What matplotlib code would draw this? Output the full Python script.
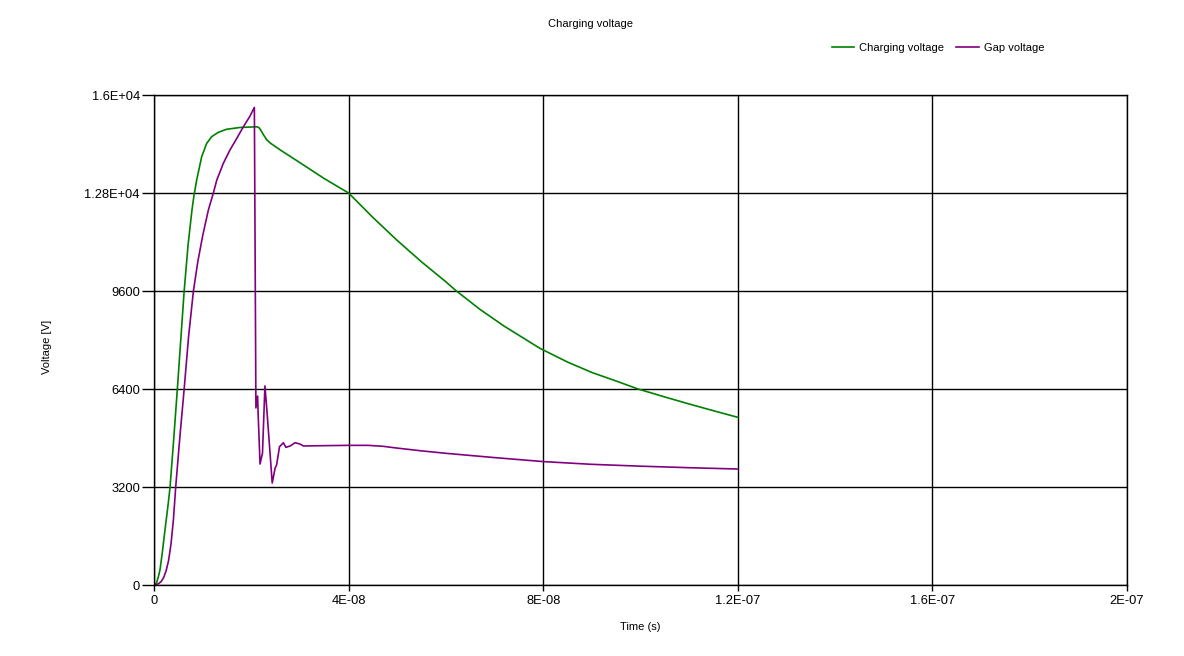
import matplotlib
matplotlib.use('Agg')
import matplotlib.pyplot as plt
from matplotlib.ticker import FixedLocator

plt.rcParams['font.family'] = ['Liberation Sans', 'DejaVu Sans']

# Tiempos en ns, valores en V
t_carga = [0, 0.5, 0.9, 1.23, 1.7, 2.26, 2.94, 3.3, 4.0, 4.8, 5.5, 6.2, 7.0, 7.8, 8.2, 8.77,
           9.8, 10.83, 11.86, 13.2, 14.9, 17.7, 20.8, 21.2, 21.6, 22.0, 22.5, 23.2, 24, 26,
           30, 35, 40, 45, 50, 55, 60, 62, 67, 72, 79.3, 85, 90, 95, 99.5, 105, 110, 115, 120]
v_carga = [0, 60, 270, 490, 1050, 1800, 2680, 3200, 4650, 6400, 8000, 9600, 11100, 12240,
           12700, 13220, 13985, 14420, 14640, 14780, 14880, 14940, 14960, 14960, 14930,
           14840, 14700, 14530, 14420, 14200, 13790, 13270, 12800, 12000, 11250, 10550,
           9900, 9620, 9000, 8450, 7730, 7280, 6940, 6660, 6400, 6140, 5910, 5690, 5475]

t_gap = [0, 0.5, 1, 1.5, 2.0, 2.5, 3.0, 3.5, 4.0, 4.46, 5.3, 6.2, 7.1, 8.1, 9.0, 10.0, 11.17,
         12.2, 12.9, 14.25, 15.6, 17.0, 18.36, 19.73, 20.63, 20.95, 21.3, 21.4, 21.8, 22.3,
         22.8, 23.2, 23.7, 24.3, 24.9, 25.2, 25.8, 26.6, 27.1, 28, 29, 30, 30.7, 35, 40, 44,
         47, 50, 55, 60, 70, 80, 90, 100, 110, 120]
v_gap = [0, 10, 50, 120, 250, 470, 800, 1350, 2150, 3200, 4800, 6400, 8100, 9600, 10550,
         11400, 12240, 12800, 13220, 13770, 14200, 14580, 14960, 15310, 15595, 5780, 6170,
         5615, 3950, 4310, 6500, 5715, 4636, 3330, 3820, 3920, 4516, 4646, 4495, 4540, 4646,
         4604, 4540, 4550, 4560, 4560, 4530, 4470, 4380, 4300, 4160, 4030, 3940, 3880, 3830,
         3787]

x_ticks = [0, 4e-8, 8e-8, 1.2e-7, 1.6e-7, 2e-7]
x_labels = ['0', '4E-08', '8E-08', '1.2E-07', '1.6E-07', '2E-07']
y_ticks = [0, 3200, 6400, 9600, 12800, 16000]
y_labels = ['0', '3200', '6400', '9600', '1.28E+04', '1.6E+04']

fig = plt.figure(figsize=(11.84, 6.56), dpi=100)
ax = fig.add_axes([154 / 1184, 1 - 585 / 656, (1127 - 154) / 1184, (585 - 95) / 656])

ax.plot([t * 1e-9 for t in t_carga], v_carga, color='#008000', lw=1.2, label='Charging voltage')
ax.plot([t * 1e-9 for t in t_gap], v_gap, color='#800080', lw=1.2, label='Gap voltage')

ax.set_xlim(0, 2e-7)
ax.set_ylim(0, 16000)
ax.xaxis.set_major_locator(FixedLocator(x_ticks))
ax.set_xticklabels(x_labels)
ax.yaxis.set_major_locator(FixedLocator(y_ticks))
ax.set_yticklabels(y_labels)
ax.grid(True, color='black', lw=1)
ax.set_axisbelow(True)
for s in ax.spines.values():
    s.set_color('black')
    s.set_linewidth(1)
ax.tick_params(axis='x', direction='out', length=4.5, width=1, labelsize=9.3, pad=3)
ax.tick_params(axis='y', direction='out', length=8.6, width=1, labelsize=9.3, pad=1.5)

fig.text(640 / 1184, 1 - 627 / 656, 'Time (s)', ha='center', va='center', fontsize=8)
fig.text(47 / 1184, 1 - 347 / 656, 'Voltage [V]', ha='center', va='center', fontsize=8,
         rotation=90)
fig.text(591 / 1184, 1 - 24 / 656, 'Charging voltage', ha='center', va='center', fontsize=8)
fig.legend(loc='center', bbox_to_anchor=(938 / 1184, 1 - 48 / 656), ncol=2, frameon=False,
           fontsize=8, handlelength=2.0, handletextpad=0.45, columnspacing=1.1)

fig.savefig('out.png', dpi=100)
